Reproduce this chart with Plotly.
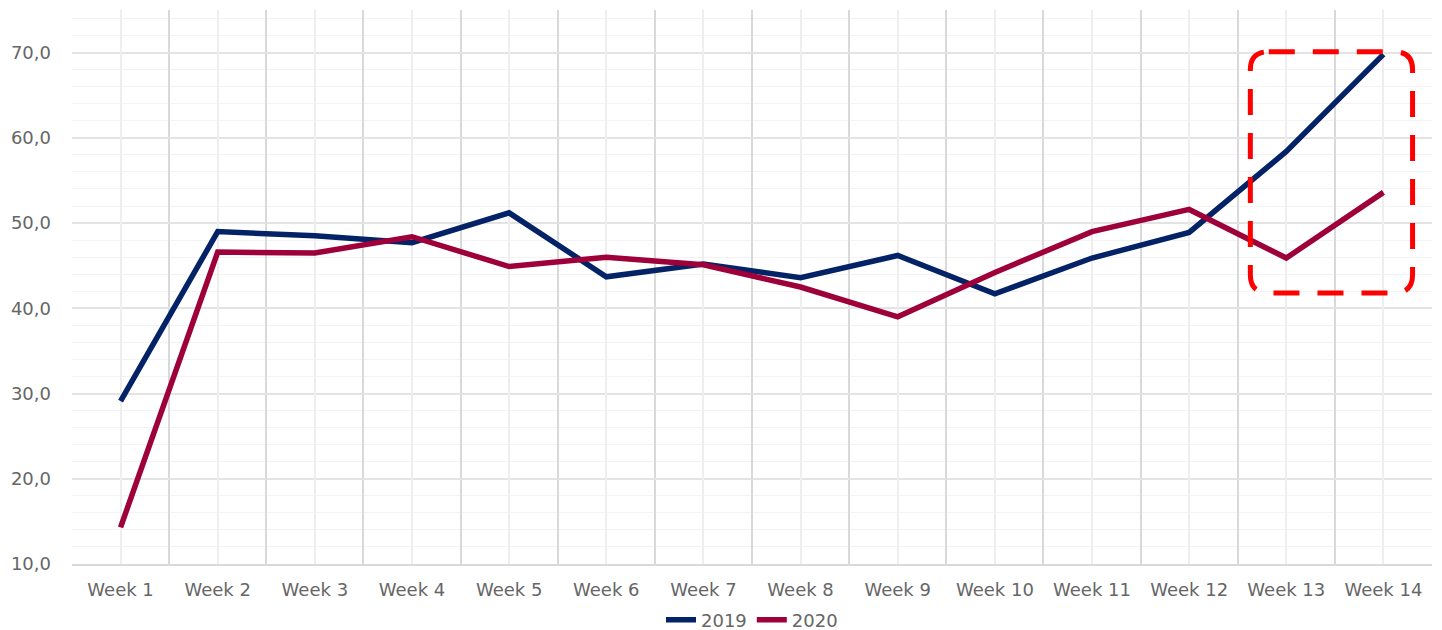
import plotly.graph_objects as go

weeks = ["Week %d" % i for i in range(1, 15)]
sales_2019 = [29.1, 49.0, 48.5, 47.7, 51.2, 43.7, 45.2, 43.6, 46.2, 41.7, 45.9, 48.9, 58.4, 69.8]
sales_2020 = [14.3, 46.6, 46.5, 48.4, 44.9, 46.0, 45.1, 42.5, 39.0, 44.2, 49.0, 51.6, 45.9, 53.6]

# highlight box around the last two weeks (x in category index units)
box_x = [11.63, 13.30]
box_y = [41.8, 70.1]

fig = go.Figure()
fig.add_trace(go.Scatter(x=weeks, y=sales_2019, name="2019", mode="lines",
                         line=dict(color="#032366", width=5.5)))
fig.add_trace(go.Scatter(x=weeks, y=sales_2020, name="2020", mode="lines",
                         line=dict(color="#9e0039", width=5.5)))
# invisible helper trace so the centre gridlines axis is drawn
fig.add_trace(go.Scatter(x=[0, 13], y=[10, 10], xaxis="x2", mode="lines",
                         line=dict(width=0), showlegend=False, hoverinfo="skip"))

x0, x1 = box_x
y0, y1 = box_y
rx, ry = 0.19, 2.1
path = (f"M {x0+rx},{y1} L {x1-rx},{y1} Q {x1},{y1} {x1},{y1-ry} "
        f"L {x1},{y0+ry} Q {x1},{y0} {x1-rx},{y0} L {x0+rx},{y0} "
        f"Q {x0},{y0} {x0},{y0+ry} L {x0},{y1-ry} Q {x0},{y1} {x0+rx},{y1} Z")
fig.add_shape(type="path", path=path, xref="x2", yref="y",
              line=dict(color="#ff0000", width=5, dash="26px,18px"))

# page body adds an 8px offset, so margins are shifted to compensate
fig.update_layout(
    width=1442, height=630,
    paper_bgcolor="white", plot_bgcolor="white",
    font=dict(family="DejaVu Sans", size=18, color="#666666"),
    separators=", ",
    margin=dict(l=64, r=18, t=2, b=74, autoexpand=False),
    showlegend=True,
    legend=dict(orientation="h", x=0.5, xanchor="center", y=-0.101, yanchor="middle",
                font=dict(size=18, color="#666666"), tracegroupgap=0),
    xaxis=dict(type="category", tickson="boundaries", showgrid=True,
               gridcolor="#d9d9d9", gridwidth=2, ticks="", showline=True,
               linecolor="#d9d9d9", linewidth=2, ticklabelstandoff=8,
               range=[-0.5, 13.5]),
    xaxis2=dict(overlaying="x", range=[-0.5, 13.5], tick0=0, dtick=1,
                showgrid=True, gridcolor="#eeeeee", gridwidth=2,
                showticklabels=False, zeroline=False, side="bottom"),
    yaxis=dict(range=[10, 75], tick0=10, dtick=10, tickformat=".1f",
               showgrid=True, gridcolor="#e3e3e3", gridwidth=2, zeroline=False,
               ticklabelstandoff=20,
               minor=dict(dtick=2, tick0=10, showgrid=True, gridcolor="#f3f3f3", gridwidth=1)),
)

fig.write_html("out.html")
